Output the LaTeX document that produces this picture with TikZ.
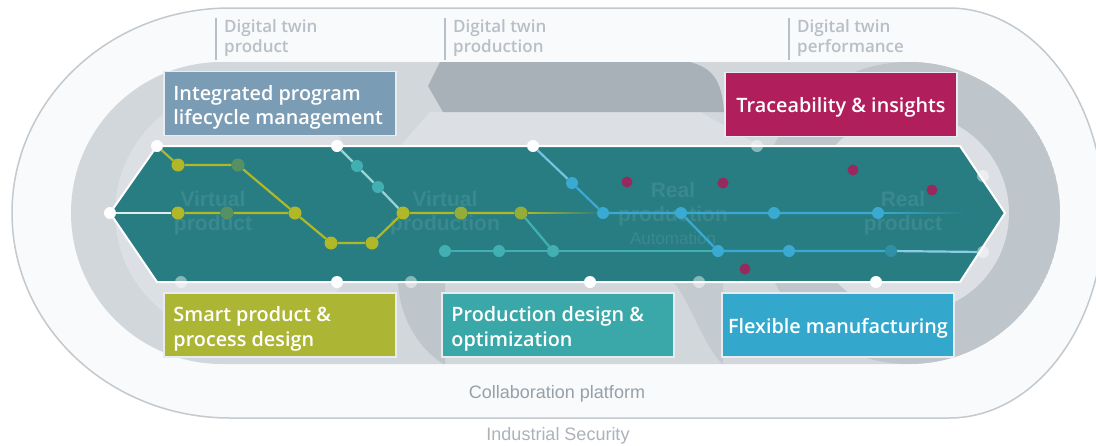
\documentclass[tikz,border=0pt]{standalone}
\usepackage{fontspec}
\setmainfont{Open Sans}
\newfontfamily\boxfont{Open Sans Semibold}
\newfontfamily\arialfont{Liberation Sans}
\usetikzlibrary{fadings}
\definecolor{outerline}{RGB}{196,201,206}
\definecolor{outerfill}{RGB}{248,250,251}
\definecolor{innergray}{RGB}{210,215,220}
\definecolor{midgray}{RGB}{190,197,203}
\definecolor{darkgray}{RGB}{168,176,184}
\definecolor{lightpatch}{RGB}{220,224,228}
\definecolor{labelgray}{RGB}{184,191,199}
\definecolor{collabgray}{RGB}{150,160,170}
\definecolor{secgray}{RGB}{172,178,184}
\definecolor{boxblue}{RGB}{122,156,180}
\definecolor{boxmag}{RGB}{176,30,92}
\definecolor{boxolive}{RGB}{172,181,52}
\definecolor{boxteal}{RGB}{58,168,168}
\definecolor{boxsky}{RGB}{52,168,204}
\definecolor{hexfill}{RGB}{40,125,131}
\definecolor{ghost}{RGB}{58,137,143}
\definecolor{lolive}{RGB}{176,184,40}
\definecolor{lteal}{RGB}{66,176,178}
\definecolor{lblue}{RGB}{58,170,210}
\definecolor{lmag}{RGB}{150,42,92}
\definecolor{boxedge}{RGB}{232,236,240}
\tikzset{
  catbox/.style={draw=boxedge, line width=1.5pt, minimum width=232pt, minimum height=64pt, inner sep=0pt},
  boxtext/.style={text=white, font=\boxfont\fontsize{19.8}{24.5}\selectfont, align=left, inner sep=0pt},
  twinlabel/.style={text=labelgray, font=\boxfont\fontsize{17}{20}\selectfont, align=left, anchor=north west, inner sep=0pt},
  ghosttext/.style={text=ghost, font=\arialfont\bfseries\fontsize{21}{24}\selectfont, align=center},
  dotw/.style={circle, fill=white, minimum size=12pt, inner sep=0pt},
  dotf/.style={circle, fill=white, fill opacity=0.45, minimum size=12pt, inner sep=0pt},
  doto/.style={circle, fill=lolive, minimum size=13pt, inner sep=0pt},
  dott/.style={circle, fill=lteal, minimum size=12pt, inner sep=0pt},
  dotb/.style={circle, fill=lblue, minimum size=12pt, inner sep=0pt},
  dotm/.style={circle, fill=lmag, minimum size=11pt, inner sep=0pt},
  track/.style={line width=2.2pt},
}
\begin{document}
\begin{tikzpicture}[x=1pt,y=-1pt]
\useasboundingbox (0,0) rectangle (1096,445);
\fill[white] (0,0) rectangle (1096,445);
% outer collaboration platform
\draw[draw=outerline, line width=1.5pt, fill=outerfill]
  (230,8) -- (949,8) arc[start angle=-90, end angle=90, x radius=155, y radius=205]
  -- (230,418) arc[start angle=90, end angle=270, x radius=218, y radius=205] -- cycle;
% inner grey area
\begin{scope}
\clip (222,62) -- (909,62) arc[start angle=-90, end angle=90, radius=151]
  -- (222,364) arc[start angle=90, end angle=270, radius=151] -- cycle;
\fill[innergray] (0,0) rectangle (1096,445);
\fill[lightpatch] (240,213) circle[radius=125];
\fill[midgray] (909,213) circle[radius=151];
\fill[lightpatch] (909,213) circle[radius=100];
\fill[lightpatch] (430,112) -- (700,112) -- (760,146) -- (400,146) -- cycle;
\fill[darkgray] (428,86) -- (440,62) -- (690,62) .. controls (712,68) and (722,80) .. (724,112) -- (443,112) -- cycle;
\fill[midgray] (398,282) .. controls (400,320) and (420,350) .. (445,365) -- (445,282) -- cycle;
\fill[midgray, opacity=0.7] (673,282) .. controls (690,300) and (700,340) .. (723,365) -- (723,282) -- cycle;
\end{scope}
% top labels
\draw[labelgray, line width=1.2pt] (216,18) -- (216,60);
\draw[labelgray, line width=1.2pt] (445,18) -- (445,60);
\draw[labelgray, line width=1.2pt] (789,18) -- (789,60);
\node[twinlabel] (tl1) at (224,19) {Digital twin\\product};
\node[twinlabel] (tl2) at (453,19) {Digital twin\\production};
\node[twinlabel] (tl3) at (797,19) {Digital twin\\performance};
% hexagon band
\draw[draw=white, line width=2pt, fill=hexfill]
  (110,213) -- (157,146) -- (960,146) -- (1005,213) -- (960,282) -- (157,282) -- cycle;
% ghost texts
\node[ghosttext] (g1) at (213,213) {Virtual\\product};
\node[ghosttext] (g2) at (445,213) {Virtual\\production};
\node[ghosttext] (g3) at (673,204) {Real\\production};
\node[text=ghost, font=\arialfont\fontsize{17}{20}\selectfont] (g3b) at (673,238) {Automation};
\node[ghosttext] (g4) at (903,213) {Real\\product};
% edge dots
\node[dotw] (wA) at (157,146) {};
\node[dotw] (wB) at (337,146) {};
\node[dotw] (wC) at (533,146) {};
\node[dotf] (wD) at (757,146) {};
\node[dotf] (wE) at (181,282) {};
\node[dotw] (wF) at (337,282) {};
\node[dotf] (wG) at (411,282) {};
\node[dotw] (wH) at (590,282) {};
\node[dotf] (wI) at (699,282) {};
\node[dotw] (wJ) at (876,282) {};
\node[dotw] (wL) at (110,213) {};
\node[dotf] (wR1) at (983,176) {};
\node[dotf] (wR2) at (983,252) {};
% olive dots
\node[doto] (o1) at (178,165) {};
\node[doto, opacity=0.35] (o2) at (238,165) {};
\node[doto] (o3) at (178,213) {};
\node[doto, opacity=0.35] (o4) at (227,213) {};
\node[doto] (o5) at (295,213) {};
\node[doto] (o6) at (331,243) {};
\node[doto] (o7) at (372,243) {};
\node[doto] (o8) at (403,213) {};
\node[doto, opacity=0.8] (o9) at (461,213) {};
\node[doto, opacity=0.8] (o10) at (521,213) {};
\coordinate (oend) at (600,213);
% teal dots
\node[dott] (t1) at (357,166) {};
\node[dott] (t2) at (378,187) {};
\node[dott] (t3) at (445,251) {};
\node[dott] (t4) at (499,251) {};
\node[dott] (t5) at (553,251) {};
% blue dots
\node[dotb] (b1) at (572,183) {};
\node[dotb] (b2) at (603,213) {};
\node[dotb] (b3) at (681,213) {};
\node[dotb] (b4) at (774,213) {};
\node[dotb] (b5) at (878,213) {};
\node[dotb] (b6) at (718,251) {};
\node[dotb] (b7) at (789,251) {};
\node[dotb, opacity=0.45] (b8) at (891,251) {};
\coordinate (bend) at (965,213);
% magenta dots
\node[dotm] (m1) at (627,182) {};
\node[dotm] (m2) at (723,183) {};
\node[dotm] (m3) at (853,170) {};
\node[dotm] (m4) at (932,190) {};
\node[dotm] (m5) at (745,269) {};
% tracks
\draw[track, white!85!hexfill] (wL) -- (o3);
\draw[track, lolive] (wA) -- (o1) -- (o2) -- (o5);
\draw[track, lolive] (o3) -- (o4) -- (o5) -- (o6) -- (o7) -- (o8) -- (o9) -- (o10);
\draw[track, lolive, path fading=east] (o10) -- (oend);
\draw[track, white!45!lteal] (wB) -- (t1) -- (t2) -- (o8);
\draw[track, lteal] (o10) -- (t5);
\draw[track, lteal] (t3) -- (t4) -- (t5) -- (b6);
\draw[track, white!30!lblue] (wC) -- (b1);
\draw[track, lblue] (b1) -- (b2) -- (b3) -- (b4) -- (b5);
\draw[track, lblue, path fading=east] (b5) -- (bend);
\draw[track, lblue] (b3) -- (b6) -- (b7) -- (b8);
\draw[track, white!40!lblue] (b8) -- (wR2);
% category boxes
\node[catbox, fill=boxblue] (ipl) at (280,103.5) {};
\node[boxtext, anchor=west] (iplt) at ([xshift=10pt,yshift=-4pt]ipl.west) {Integrated program\\lifecycle management};
\node[catbox, fill=boxmag] (tra) at (841,104.5) {};
\node[boxtext] (trat) at ([yshift=-3pt]tra.center) {Traceability \& insights};
\node[catbox, fill=boxolive] (spd) at (280,325) {};
\node[boxtext, anchor=west] (spdt) at ([xshift=10pt,yshift=-4pt]spd.west) {Smart product \&\\process design};
\node[catbox, fill=boxteal] (pdo) at (558,325) {};
\node[boxtext, anchor=west] (pdot) at ([xshift=10pt,yshift=-4pt]pdo.west) {Production design \&\\optimization};
\node[catbox, fill=boxsky] (flm) at (838,325) {};
\node[boxtext] (flmt) at ([yshift=-3pt]flm.center) {Flexible manufacturing};
% bottom labels
\node[text=collabgray, font=\arialfont\fontsize{18}{20}\selectfont] (collab) at (557,394) {Collaboration platform};
\node[text=secgray, font=\arialfont\fontsize{18}{20}\selectfont] (sec) at (558,436) {Industrial Security};
\end{tikzpicture}
\end{document}
